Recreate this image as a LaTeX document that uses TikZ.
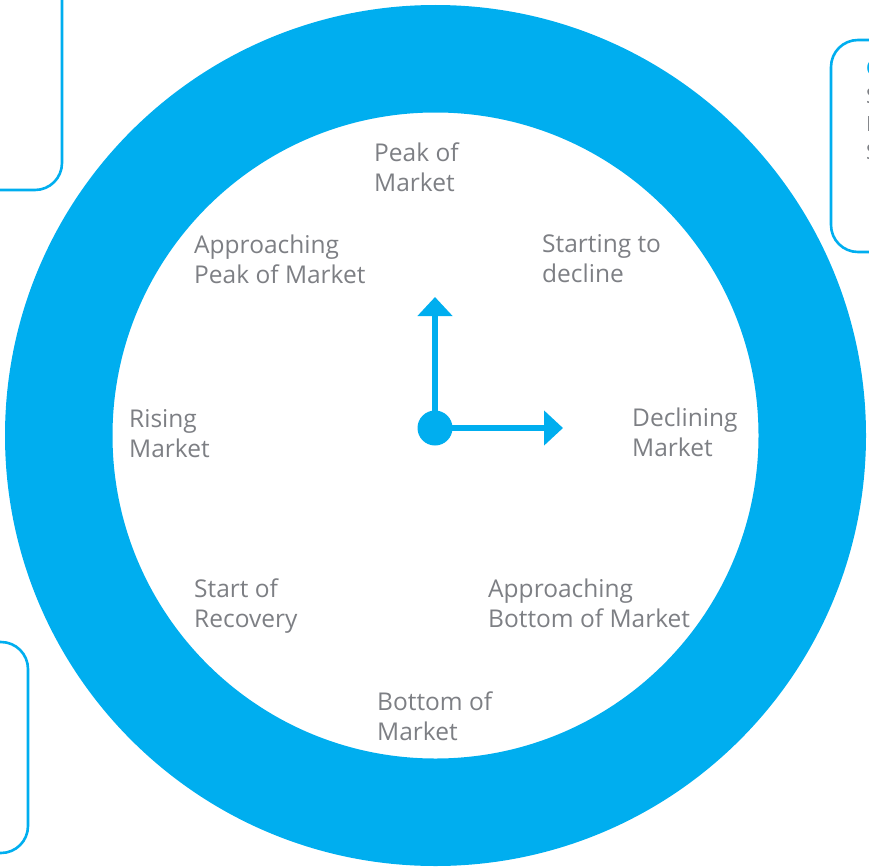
\documentclass[tikz,border=0pt]{standalone}
\usepackage{fontspec}
\setmainfont{Open Sans}
\usepackage{tikz}
\usetikzlibrary{arrows.meta,positioning}
\definecolor{cycleblue}{RGB}{0,174,239}
\definecolor{labelgray}{RGB}{125,127,132}

\begin{document}
\begin{tikzpicture}[x=1pt,y=-1pt,inner sep=0pt]
\tikzstyle{phase}=[anchor=base west, align=left, text=labelgray, font=\fontsize{24.5}{30}\selectfont]
\tikzstyle{sidebox}=[draw=cycleblue, line width=2.6pt, rounded corners=27pt]
\tikzstyle{hand}=[draw=cycleblue, line width=6pt, -{Triangle[length=19pt,width=34pt]}]
\useasboundingbox (0,0) rectangle (869,867);
% side boxes, cut by the page edge
\draw[sidebox] (-120,-40) rectangle (62,190);
\draw[sidebox] (831,40) rectangle (1000,252);
\draw[sidebox] (-120,642) rectangle (28,853);
\node[anchor=base west, align=left, text=labelgray, font=\fontsize{21}{28}\selectfont] (boxtext) at (866,159) {\textcolor{cycleblue}{\bfseries C}\\S\\I\\S};
% the ring
\fill[cycleblue, even odd rule] (435.5,435.5) circle[radius=430.5] (435.5,435.5) circle[radius=323];
% phases (anchored at the baseline of the last line)
\node[phase] (peak) at (374,191) {Peak of\\Market};
\node[phase] (decl1) at (542,282) {Starting to\\decline};
\node[phase] (decl2) at (632,456) {Declining\\Market};
\node[phase] (appbot) at (488,627) {Approaching\\Bottom of Market};
\node[phase] (bottom) at (377,740) {Bottom of\\Market};
\node[phase] (recov) at (194,627) {Start of\\Recovery};
\node[phase] (rise) at (129,457) {Rising\\Market};
\node[phase] (apppeak) at (194,283) {Approaching\\Peak of Market};
% clock hands
\node[circle, fill=cycleblue, minimum size=35pt] (hub) at (435,428) {};
\coordinate (noon) at (435,297);
\coordinate (three) at (563,428);
\draw[hand] (hub.center) -- (noon);
\draw[hand] (hub.center) -- (three);
\end{tikzpicture}
\end{document}
